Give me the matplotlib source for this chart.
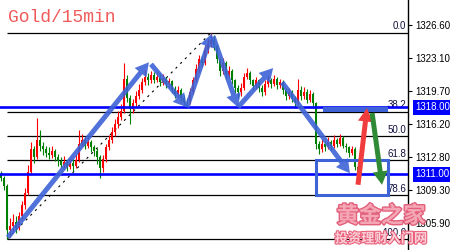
import matplotlib
matplotlib.use("Agg")
import matplotlib.pyplot as plt
import matplotlib.patheffects as pe
import matplotlib.transforms as mtransforms
from matplotlib.patches import FancyArrowPatch, Rectangle, ArrowStyle
import numpy as np

# 15 minute gold bars (close / high / low), open = previous close
first_open = 1310.9
closes = [1310.6, 1309.8, 1305.2, 1305.6, 1306.0, 1305.4, 1306.6, 1307.8, 1309.0, 1311.2,
          1313.6, 1312.8, 1314.6, 1314.0, 1313.6, 1313.2, 1313.0, 1313.4, 1312.8, 1312.4,
          1312.0, 1312.3, 1311.8, 1312.2, 1311.9, 1312.5, 1314.2, 1314.6, 1314.0, 1314.4,
          1313.8, 1313.4, 1312.8, 1311.6, 1312.6, 1313.8, 1314.6, 1315.4, 1316.2, 1317.0,
          1317.6, 1321.0, 1319.0, 1317.8, 1318.4, 1319.2, 1319.8, 1320.6, 1321.2, 1320.8,
          1321.4, 1320.9, 1321.2, 1320.6, 1321.0, 1320.4, 1320.7, 1319.9, 1319.4, 1319.8,
          1319.0, 1318.6, 1318.5, 1319.6, 1320.8, 1322.0, 1323.0, 1322.6, 1324.0, 1324.6,
          1325.0, 1324.4, 1323.0, 1321.8, 1322.6, 1321.4, 1321.8, 1320.8, 1320.0, 1319.6,
          1320.0, 1321.2, 1321.6, 1320.8, 1320.2, 1320.8, 1320.0, 1319.6, 1320.4, 1320.9,
          1320.4, 1321.0, 1320.3, 1320.6, 1319.8, 1319.2, 1319.6, 1318.9, 1318.5, 1319.8,
          1319.2, 1319.6, 1318.8, 1319.4, 1318.4, 1314.2, 1313.6, 1314.2, 1313.8, 1314.4,
          1313.9, 1314.6, 1314.2, 1314.8, 1314.0, 1313.8, 1313.2, 1313.6, 1311.8, 1311.2,
          1311.6]
highs = [1311.3, 1310.8, 1310.0, 1306.4, 1306.8, 1306.6, 1307.0, 1308.2, 1309.6, 1312.0,
         1314.4, 1314.0, 1316.9, 1315.6, 1314.4, 1314.0, 1313.8, 1313.9, 1313.6, 1313.1,
         1312.8, 1312.9, 1312.5, 1312.7, 1312.6, 1313.0, 1315.6, 1315.2, 1314.9, 1314.9,
         1314.6, 1314.1, 1313.7, 1313.0, 1313.0, 1314.2, 1315.1, 1315.9, 1316.8, 1317.6,
         1318.3, 1322.6, 1321.4, 1319.3, 1318.9, 1319.7, 1320.4, 1321.1, 1321.9, 1321.6,
         1321.8, 1321.7, 1321.7, 1321.5, 1321.5, 1321.2, 1321.1, 1320.9, 1320.2, 1320.2,
         1320.0, 1319.3, 1319.0, 1320.0, 1321.2, 1322.5, 1323.5, 1323.4, 1324.5, 1325.1,
         1325.8, 1325.6, 1324.6, 1323.2, 1323.1, 1322.8, 1322.3, 1322.0, 1321.0, 1320.3,
         1320.5, 1321.6, 1322.1, 1321.8, 1321.0, 1321.2, 1321.0, 1320.3, 1320.8, 1321.4,
         1321.1, 1321.4, 1321.2, 1321.0, 1320.8, 1320.0, 1320.0, 1319.8, 1319.2, 1321.0,
         1320.2, 1320.1, 1319.9, 1319.8, 1319.6, 1318.6, 1314.5, 1314.7, 1314.5, 1314.9,
         1314.6, 1315.1, 1314.8, 1315.2, 1315.0, 1314.3, 1314.0, 1314.0, 1313.8, 1312.2,
         1312.0]
lows = [1310.3, 1309.4, 1304.2, 1304.4, 1305.0, 1304.9, 1305.2, 1306.2, 1307.4, 1308.8,
        1311.0, 1312.2, 1312.6, 1313.4, 1313.0, 1312.8, 1312.6, 1312.7, 1312.4, 1311.9,
        1311.6, 1311.7, 1311.3, 1311.5, 1311.3, 1311.6, 1312.3, 1313.9, 1313.6, 1313.7,
        1313.3, 1312.9, 1312.1, 1310.6, 1311.2, 1312.3, 1313.5, 1314.3, 1315.0, 1315.8,
        1316.7, 1317.4, 1318.6, 1316.3, 1317.4, 1318.0, 1318.9, 1319.5, 1320.3, 1320.3,
        1320.5, 1320.5, 1320.6, 1320.2, 1320.3, 1320.0, 1320.1, 1319.5, 1319.0, 1319.1,
        1318.6, 1318.2, 1318.0, 1318.3, 1319.4, 1320.6, 1321.7, 1322.2, 1322.4, 1323.7,
        1324.3, 1324.0, 1322.6, 1321.3, 1321.5, 1321.0, 1321.1, 1320.4, 1319.5, 1319.0,
        1319.2, 1319.8, 1321.0, 1320.4, 1319.8, 1319.9, 1319.6, 1319.2, 1319.3, 1320.1,
        1320.0, 1320.2, 1319.9, 1320.0, 1319.4, 1318.8, 1318.9, 1318.5, 1318.0, 1318.3,
        1318.8, 1318.9, 1318.4, 1318.5, 1317.9, 1313.6, 1313.1, 1313.3, 1313.4, 1313.6,
        1313.5, 1313.7, 1313.8, 1314.0, 1313.7, 1313.3, 1312.8, 1313.0, 1311.4, 1310.6,
        1311.0]

# fibonacci retracement from the low (bar 2) to the high (bar 70)
fib_low, fib_high = 1304.2, 1325.8
fib_start, fib_end = 2, 70
fib_levels = [0.0, 38.2, 50.0, 61.8, 78.6, 100.0]

key_levels = [1318.00, 1311.00]
tick_values = [1326.60, 1323.10, 1319.70, 1316.20, 1312.80, 1309.30, 1305.90]

# hand drawn arrows: (bar, price) -> (bar, price)
blue_arrows = [((2.3, 1304.4), (49.3, 1322.7)),
               ((50.0, 1322.5), (62.0, 1318.0)),
               ((62.0, 1318.0), (70.3, 1325.7)),
               ((70.7, 1325.4), (79.0, 1318.0)),
               ((79.0, 1318.0), (90.7, 1322.1)),
               ((93.7, 1320.6), (116.3, 1311.1))]
red_arrow = ((119.0, 1309.9), (122.0, 1317.9))
green_arrow = ((123.7, 1317.4), (127.0, 1309.9))
target_box = (105.0, 1308.8, 129.0, 1312.5)
resist_bar = (107.3, 1317.5, 129.0, 1318.0)

fig = plt.figure(figsize=(4.5, 2.5), dpi=100)
ax = fig.add_axes([0, 0, 408 / 450, 1])
ax.set_xlim(-1 / 3, 407 / 3)
ax.set_ylim(1303.08, 1329.21)

o = np.array([first_open] + closes[:-1])
c = np.array(closes)
x = np.arange(len(c))
cols = np.where(c > o, "#ff0000", "#008000")
ax.vlines(x, lows, highs, colors=cols, lw=0.8, zorder=3)
ax.bar(x, np.maximum(np.abs(c - o), 0.1), bottom=np.minimum(o, c), width=0.6,
       color=cols, lw=0, zorder=3)

# fib levels
xmax = ax.get_xlim()[1]
for lvl in fib_levels:
    p = fib_high - (fib_high - fib_low) * lvl / 100
    ax.hlines(p, fib_start, xmax, color="black", lw=0.9, zorder=2)
    ax.text(0.995, p + 0.15, f"{lvl:.1f}", transform=mtransforms.blended_transform_factory(ax.transAxes, ax.transData),
            ha="right", va="bottom", fontsize=7, color="#101040", family="Liberation Sans", zorder=4)
ax.plot([fib_start, fib_end], [fib_low, fib_high], color="black", lw=0.8,
        ls=(0, (2, 4)), zorder=2)

for lv in key_levels:
    ax.axhline(lv, color="#0000ff", lw=1.9, zorder=5)

blue = "#3d63d6"
ax.add_patch(Rectangle((target_box[0], target_box[1]), target_box[2] - target_box[0],
                       target_box[3] - target_box[1], fill=False, ec=blue, lw=2.2, zorder=6))
ax.add_patch(Rectangle((resist_bar[0], resist_bar[1]), resist_bar[2] - resist_bar[0],
                       resist_bar[3] - resist_bar[1], fc=blue, ec="none", zorder=6))

style = ArrowStyle.Simple(head_length=0.8, head_width=0.9, tail_width=0.3)
for a, b in blue_arrows:
    ax.add_patch(FancyArrowPatch(a, b, arrowstyle=style, mutation_scale=12, color=blue,
                                 alpha=0.9, lw=0, shrinkA=0, shrinkB=0, zorder=7))
for (a, b), col in [(red_arrow, "#f03c3c"), (green_arrow, "#2f8a35")]:
    ax.add_patch(FancyArrowPatch(a, b, arrowstyle=style, mutation_scale=12, color=col,
                                 lw=0, shrinkA=0, shrinkB=0, zorder=7))

# axis
for s in ["left", "top", "bottom"]:
    ax.spines[s].set_visible(False)
ax.spines["right"].set_color("black")
ax.spines["right"].set_linewidth(1)
ax.set_xticks([])
ax.yaxis.tick_right()
ax.set_yticks(tick_values)
ax.set_yticklabels([f"{v:.2f}" for v in tick_values])
ax.tick_params(axis="y", length=3, width=0.8, pad=2, labelsize=7, colors="black")
for lab in ax.get_yticklabels():
    lab.set_family("Liberation Sans")

tr = mtransforms.blended_transform_factory(ax.transAxes, ax.transData)
for lv in key_levels:
    ax.text(1.018, lv, f"{lv:.2f}", transform=tr, ha="left", va="center", fontsize=7,
            color="white", family="Liberation Sans", clip_on=False, zorder=8,
            bbox=dict(boxstyle="square,pad=0.25", fc="#0000ff", ec="none"))

fig.text(0.018, 0.965, "Gold/15min", ha="left", va="top", fontsize=13,
         family="Liberation Mono", color="#f05a5a")

fig.text(0.847, 0.136, "黄金之家", ha="center", va="center", fontsize=16,
         family="Noto Sans CJK SC", weight="bold", color="#f4a6b4",
         path_effects=[pe.Stroke(linewidth=2, foreground="#e2607c"), pe.Normal()])
fig.text(0.847, 0.046, "投资理财入门网", ha="center", va="center", fontsize=9.5,
         family="Noto Sans CJK SC", weight="bold", color="#fbd0d8",
         path_effects=[pe.Stroke(linewidth=1.6, foreground="#e8607a"), pe.Normal()])

fig.savefig("out.png", dpi=100, facecolor="white")
